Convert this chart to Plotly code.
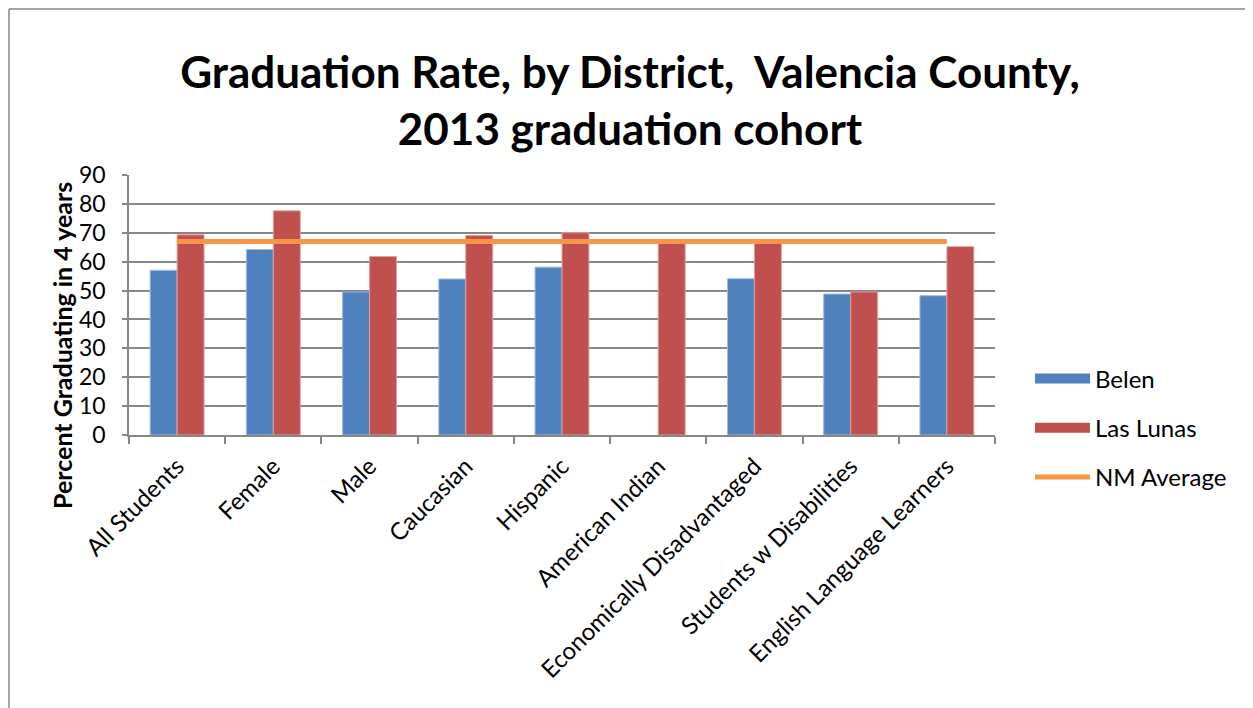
import plotly.graph_objects as go

categories = ["All Students", "Female", "Male", "Caucasian", "Hispanic",
              "American Indian", "Economically Disadvantaged",
              "Students w Disabilities", "English Language Learners"]
belen = [57.0, 64.2, 49.5, 54.0, 58.1, None, 54.1, 48.8, 48.2]
las_lunas = [69.3, 77.6, 61.8, 69.1, 70.0, 67.5, 67.3, 49.5, 65.2]
nm_average = [67.0] * 9
y_ticks = list(range(0, 91, 10))

font = "Lato, Open Sans, sans-serif"
grey = "#868686"
blue, red, orange = "#4F81BD", "#C0504D", "#F79646"

# page offset (body margin) is ~8px; plot area targeted at x 129-995, y 175-435 on the page
W, H = 1245, 700
L, T, R, B = 121, 167, 258, 273
pw, ph = W - L - R, H - T - B

fig = go.Figure()
fig.add_trace(go.Bar(x=categories, y=belen, name="Belen", showlegend=False,
                     marker=dict(color=blue, line=dict(color="#9DB9DE", width=1))))
fig.add_trace(go.Bar(x=categories, y=las_lunas, name="Las Lunas", showlegend=False,
                     marker=dict(color=red, line=dict(color="#E0A09E", width=1))))
fig.add_trace(go.Scatter(x=categories, y=nm_average, name="NM Average", mode="lines",
                         line=dict(color=orange, width=5), showlegend=False))
# legend entries (wide rectangle keys like the original)
fig.add_trace(go.Scatter(x=[None], y=[None], name="Belen", mode="lines",
                         line=dict(color=blue, width=15), legendgroup="a"))
fig.add_trace(go.Scatter(x=[None], y=[None], name="Las Lunas", mode="lines",
                         line=dict(color=red, width=15), legendgroup="b"))
fig.add_trace(go.Scatter(x=[None], y=[None], name="NM Average", mode="lines",
                         line=dict(color=orange, width=5), legendgroup="c"))

fig.update_layout(
    width=W, height=H,
    paper_bgcolor="white", plot_bgcolor="white",
    margin=dict(l=L, r=R, t=T, b=B, autoexpand=False),
    font=dict(family=font, color="black", size=24),
    title=dict(text="<b>Graduation Rate, by District,  Valencia County,<br>2013 graduation cohort</b>",
               x=(630 - 8) / W, xanchor="center", xref="container",
               y=1 - 80 / H, yanchor="middle", yref="container",
               font=dict(size=44, family=font, color="black")),
    barmode="group", bargap=0.44, bargroupgap=0,
    legend=dict(x=(1030 - 129) / pw, xanchor="left", y=(435 - 428) / ph, yanchor="middle",
                font=dict(size=24, family=font), traceorder="grouped",
                tracegroupgap=15, itemwidth=55, bgcolor="rgba(0,0,0,0)"),
    showlegend=True,
)
fig.update_xaxes(showline=True, linecolor=grey, linewidth=1.5,
                 ticks="outside", tickson="boundaries", ticklen=7, tickcolor=grey,
                 tickwidth=1.5, tickangle=-45, tickfont=dict(size=24, family=font),
                 ticklabelstandoff=6, showgrid=False)
fig.update_yaxes(range=[0, 90], tickvals=y_ticks, showline=True, linecolor=grey,
                 linewidth=1.5, ticks="outside", ticklen=5, tickcolor=grey, tickwidth=1.5,
                 showgrid=True, gridcolor=grey, gridwidth=1.5, ticklabelstandoff=12,
                 tickfont=dict(size=23, family=font), zeroline=False)
# y-axis title, placed like the original (centred lower than the plot area)
fig.add_annotation(text="<b>Percent Graduating in 4 years</b>", textangle=-90,
                   xref="paper", yref="paper", x=(62 - 129) / pw, y=(435 - 346) / ph,
                   xanchor="center", yanchor="middle", showarrow=False,
                   font=dict(size=25, family=font, color="black"))
# chart-area border (left and top edges visible)
bx = (9 - 129) / pw
by = (435 - 9) / ph
fig.add_shape(type="line", xref="paper", yref="paper", x0=bx, x1=bx, y0=by, y1=-2,
              line=dict(color=grey, width=1.5))
fig.add_shape(type="line", xref="paper", yref="paper", x0=bx, x1=2, y0=by, y1=by,
              line=dict(color=grey, width=1.5))

fig.write_html("out.html")
